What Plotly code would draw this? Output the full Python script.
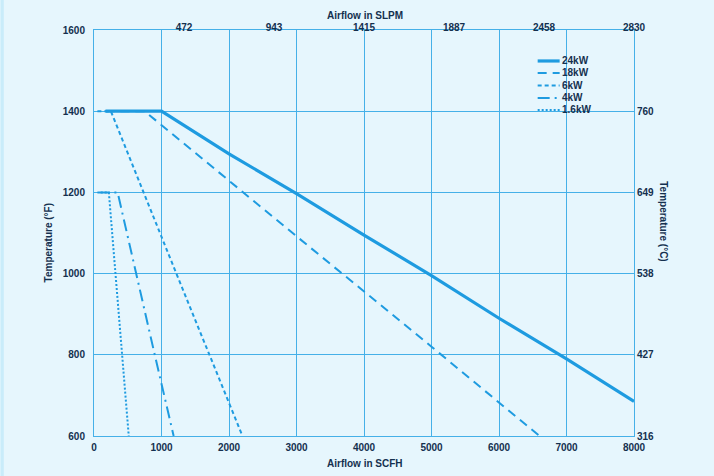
import plotly.graph_objects as go

# Airflow (SCFH) vs max outlet temperature (°F) per heater rating
series_names = ["24kW", "18kW", "6kW", "4kW", "1.6kW"]
airflow = {
    "24kW": [170, 1000, 2000, 3000, 4000, 5000, 6000, 7000, 8000],
    "18kW": [170, 750, 3000, 5000, 6600],
    "6kW": [50, 250, 1220, 2200],
    "4kW": [50, 350, 900, 1180],
    "1.6kW": [100, 220, 318, 515],
}
temp_f = {
    "24kW": [1400, 1400, 1295, 1197, 1095, 995, 890, 790, 685],
    "18kW": [1400, 1400, 1092, 820, 600],
    "6kW": [1400, 1400, 1000, 600],
    "4kW": [1200, 1200, 800, 600],
    "1.6kW": [1200, 1200, 1000, 600],
}

x_ticks = [0, 1000, 2000, 3000, 4000, 5000, 6000, 7000, 8000]
y_ticks = [600, 800, 1000, 1200, 1400, 1600]
slpm_pos = [1333.3, 2666.7, 4000, 5333.3, 6666.7, 8000]
slpm_text = ["472", "943", "1415", "1887", "2458", "2830"]
celsius_pos = [600, 800, 1000, 1200, 1400]
celsius_text = ["316", "427", "538", "649", "760"]

BLUE = "#1e9be0"
GRID = "#45b0e8"
INK = "#14304f"
BG = "#e6f6fd"
FONT = "Liberation Sans, Arial, sans-serif"

styles = {
    "24kW": dict(width=3.2, dash="solid"),
    "18kW": dict(width=2, dash="9px,6px"),
    "6kW": dict(width=2, dash="4px,3px"),
    "4kW": dict(width=2, dash="12px,5px,2px,5px"),
    "1.6kW": dict(width=2, dash="2px,2px"),
}

fig = go.Figure()
for name in series_names:
    fig.add_trace(go.Scatter(
        x=airflow[name], y=temp_f[name], mode="lines", name=name,
        line=dict(color=BLUE, **styles[name]), showlegend=False,
    ))
# invisible trace to activate the top and right axes
fig.add_trace(go.Scatter(x=[0], y=[600], xaxis="x2", yaxis="y2",
                         mode="markers", marker=dict(opacity=0),
                         showlegend=False, hoverinfo="skip"))

tickfont = dict(family=FONT, size=10, color=INK, weight="bold")
fig.update_layout(
    width=714, height=476,
    margin=dict(l=93.5, r=79.5, t=30, b=39.5, autoexpand=False),
    paper_bgcolor=BG, plot_bgcolor=BG,
    font=dict(family=FONT, color=INK),
    xaxis=dict(range=[0, 8000], tickvals=x_ticks, ticktext=[str(v) for v in x_ticks],
               showgrid=True, gridcolor=GRID, gridwidth=1, zeroline=False,
               showline=True, linecolor=GRID, linewidth=1, mirror=True,
               ticks="", tickfont=tickfont, ticklabelstandoff=2),
    yaxis=dict(range=[600, 1600], tickvals=y_ticks, ticktext=[str(v) for v in y_ticks],
               showgrid=True, gridcolor=GRID, gridwidth=1, zeroline=False,
               showline=True, linecolor=GRID, linewidth=1, mirror=True,
               ticks="", tickfont=tickfont, ticklabelstandoff=6),
    xaxis2=dict(range=[0, 8000], overlaying="x", side="top", tickvals=slpm_pos,
                ticktext=slpm_text, showgrid=False, zeroline=False, ticks="",
                tickfont=tickfont, ticklabelstandoff=-4),
    yaxis2=dict(range=[600, 1600], overlaying="y", side="right", tickvals=celsius_pos,
                ticktext=celsius_text, showgrid=False, zeroline=False, ticks="",
                tickfont=tickfont, ticklabelstandoff=2),
)

titlefont = dict(family=FONT, size=10, color=INK, weight="bold")
fig.add_annotation(text="Airflow in SCFH", xref="paper", yref="paper",
                   x=0.501, y=-0.068, xanchor="center", yanchor="middle",
                   showarrow=False, font=titlefont)
fig.add_annotation(text="Airflow in SLPM", xref="paper", yref="paper",
                   x=0.501, y=1.036, xanchor="center", yanchor="middle",
                   showarrow=False, font=titlefont)
fig.add_annotation(text="Temperature (°F)", xref="paper", yref="paper",
                   x=-0.084, y=0.476, xanchor="center", yanchor="middle",
                   textangle=-90, showarrow=False, font=titlefont)
fig.add_annotation(text="Temperature (°C)", xref="paper", yref="paper",
                   x=1.0545, y=0.528, xanchor="center", yanchor="middle",
                   textangle=90, showarrow=False, font=titlefont)

# hand-drawn legend in the top-right corner
legend_rows = [0.9237, 0.8942, 0.8635, 0.8327, 0.8032]
for name, ly in zip(series_names, legend_rows):
    fig.add_shape(type="line", xref="paper", yref="paper", x0=0.8216, x1=0.8623,
                  y0=ly, y1=ly, line=dict(color=BLUE, **styles[name]))
    fig.add_annotation(text=name, xref="paper", yref="paper", x=0.863, y=ly,
                       xanchor="left", yanchor="middle", showarrow=False,
                       font=dict(family=FONT, size=10, color=INK, weight="bold"))

# thin darker strip at the left edge of the page
fig.add_shape(type="rect", xref="paper", yref="paper", x0=-0.173, x1=-0.167,
              y0=-0.2, y1=1.2, line=dict(width=0), fillcolor="#c9ecfa", layer="below")

# drop the browser's default 8px body margin so the figure sits at the window corner
fig.write_html("out.html", config={"displayModeBar": False},
               post_script="document.body.style.margin='0';"
                           "document.body.style.background='#e6f6fd';")
